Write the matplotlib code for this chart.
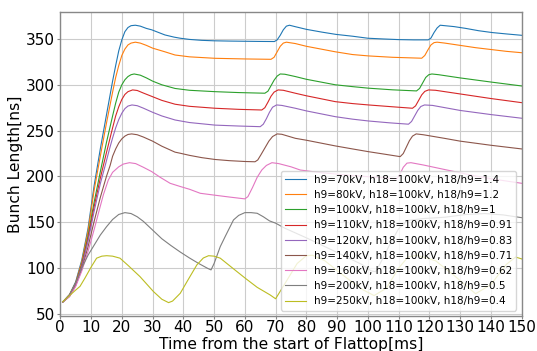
import matplotlib
matplotlib.use("Agg")
import matplotlib.pyplot as plt

labels = [
    "h9=70kV, h18=100kV, h18/h9=1.4",
    "h9=80kV, h18=100kV, h18/h9=1.2",
    "h9=100kV, h18=100kV, h18/h9=1",
    "h9=110kV, h18=100kV, h18/h9=0.91",
    "h9=120kV, h18=100kV, h18/h9=0.83",
    "h9=140kV, h18=100kV, h18/h9=0.71",
    "h9=160kV, h18=100kV, h18/h9=0.62",
    "h9=200kV, h18=100kV, h18/h9=0.5",
    "h9=250kV, h18=100kV, h18/h9=0.4",
]

t_70 = [0.8, 3, 5, 7, 9, 11, 13, 15, 17, 18, 19, 20, 21, 22, 23, 24.4, 26, 28, 29.7, 32, 34, 37, 39, 42, 46, 50, 55, 60, 65, 69.6,
        70.5, 71.5, 72.5, 73.5, 74.5, 76.4, 80, 85, 89.6, 95, 100, 105, 110, 115, 119.6, 120.5, 121.5, 122.5, 123.5, 125, 128,
        131.7, 136, 140.4, 145, 150]
v_70 = [63, 71, 85, 109, 143, 190, 230, 267, 304, 321, 337, 349, 358, 362.5, 364.5, 365, 364, 361.5, 360, 357, 354.4, 352, 350.8,
        349.5, 348.5, 348, 347.7, 347.5, 347.3, 347.2, 349, 354, 360, 364, 365, 363.4, 360.5, 357.5, 355, 353, 350.8, 350, 349.3,
        349, 349, 351, 357, 362, 365, 364.5, 363.5, 361.6, 359, 357, 355.5, 354]

t_80 = [0.8, 3, 5, 7, 9, 11, 13, 15, 17, 18, 19, 20, 21, 22, 23, 24.4, 26, 28, 30, 34, 37.3, 42, 50.3, 60, 68.5,
        69.5, 70.5, 71.5, 72.5, 73.5, 76.4, 80, 89.4, 95, 100.2, 108, 117.5, 118.5, 119.5, 120.5, 121.5, 122.5, 125, 130,
        135, 140, 145, 150]
v_80 = [63, 71, 84, 107, 140, 185, 222, 258, 292, 308, 321, 332, 339, 343.5, 345.5, 346.5, 345.5, 343, 340, 336, 332.5, 330.5,
        328.9, 328.2, 327.8, 330, 336, 342, 345.5, 346.5, 345, 342, 336, 333, 331.5, 330, 329, 332, 338, 343.5, 346, 346.5,
        345.5, 343, 340.5, 338.5, 336.5, 335]

t_100 = [0.8, 3, 5, 7, 9, 11, 13, 15, 17, 18, 19, 20, 21, 22, 23, 24, 26, 28, 30, 33, 37.3, 42, 50.3, 58, 66.5,
         67.5, 68.5, 69.5, 70.5, 71.5, 73, 76.4, 80, 89.4, 95, 100.2, 108, 115.8, 116.8, 117.8, 118.8, 119.8, 120.8, 123,
         130, 140, 150]
v_100 = [63, 70, 83, 104, 135, 172, 205, 237, 266, 280, 292, 300, 305.5, 309, 311, 311.8, 310.5, 307.5, 304, 300, 296, 294,
         292.5, 291.5, 290.8, 293, 299, 305, 309.5, 311.8, 311.5, 309, 306, 300, 298, 296.3, 294.5, 293.3, 296, 302, 308, 311,
         311.8, 311, 307.5, 303, 298.7]

t_110 = [0.8, 3, 5, 7, 9, 11, 13, 14, 15, 17, 18, 19, 20, 21, 22, 23.5, 25, 27, 30, 33, 37.3, 42, 50.3, 58, 65.5,
         66.5, 67.5, 68.5, 69.5, 70.8, 72.5, 76.4, 80, 89.4, 95, 100.2, 108, 114.5, 115.5, 116.5, 117.5, 118.5, 119.7, 122,
         130, 140, 150]
v_110 = [63, 70, 83, 103, 132, 167, 198, 212, 226, 253, 266, 276, 284, 289.5, 292.5, 294.4, 293.8, 291, 287, 283, 278.8,
         276.5, 274.4, 273.2, 272.5, 275, 281, 287.5, 292, 294.4, 294, 290.8, 288, 281.6, 279.5, 278, 276, 274.4, 277, 283,
         289, 292.8, 294.4, 294, 290, 285, 280.5]

t_120 = [0.8, 3, 5, 7, 9, 11, 13, 14.6, 16, 17, 18, 19, 20, 21, 22, 23.3, 25, 27, 30, 33, 37.3, 42, 50.3, 58, 65,
         66, 67, 68, 69, 70.3, 72, 76.4, 80, 89.4, 95, 100.2, 107, 113.2, 114.2, 115.2, 116.2, 117.2, 118.4, 121,
         130, 140, 150]
v_120 = [63, 70, 82, 102, 129, 162, 192, 212, 230, 242, 253, 262, 269, 274, 276.8, 278, 277.2, 274.5, 270, 266, 261.6,
         258.8, 256, 255, 254.3, 257, 263, 270, 275.5, 278, 277.5, 274.4, 271.5, 265.2, 262.5, 260.5, 258.5, 257, 260, 266,
         272, 276.3, 278, 277.5, 272, 267.5, 263.5]

t_140 = [0.8, 3, 5, 7, 9, 11, 13, 15, 16.2, 17, 18, 19, 20, 21, 22, 23.2, 25, 27, 30, 33, 37.3, 39, 42, 46, 50.3, 55,
         60, 63.3, 64.2, 65.2, 66.5, 67.8, 69, 70.5, 72, 76.4, 80, 89.4, 95, 100.2, 105, 110.5, 111.5, 112.5, 113.5, 114.5,
         115.7, 118, 125, 130, 140, 150]
v_140 = [63, 69, 81, 99, 123, 151, 177, 200, 212, 222, 230, 236.5, 241, 244, 245.8, 246.4, 245.5, 243, 238.5, 233, 226.5,
         225.3, 223, 220.5, 218.5, 217.2, 216.3, 216, 218, 223.5, 231, 238.5, 243.5, 246.4, 246, 241.6, 239.5, 233.3, 230,
         227, 224.5, 221.6, 225, 232, 239, 244, 246.4, 245.5, 241.5, 238.5, 234, 230]

t_160 = [0.8, 3, 5, 7, 9, 11, 12.4, 14, 15.6, 17, 19, 20.5, 22.5, 24.5, 27, 29.7, 32.5, 35.7, 39, 42, 45.5, 50.3, 55, 60,
         61, 62.5, 64, 65.5, 67, 68.8, 71, 75, 78, 85, 95, 105, 109.5, 110.5, 111.5, 112.7, 114, 118, 125, 130, 135, 140,
         145, 150]
v_160 = [63, 69, 80, 97, 118, 142, 160, 180, 196, 204.5, 210.5, 213.5, 215, 214, 210, 205.3, 199, 192.5, 189, 186, 181.6,
         179.5, 177.5, 175.5, 178, 188, 199, 207, 212, 215, 214, 210.5, 207, 204, 201, 198.5, 197.5, 203, 210, 214.5, 215,
         212.5, 207.5, 204, 200.5, 197.5, 195, 192.5]

t_200 = [0.8, 3, 5, 7, 9, 11, 13, 15, 17, 19, 21, 23, 25, 27, 30, 33, 36, 39, 42, 45, 48, 49, 50, 52, 53.6, 56.3, 58,
         60, 62, 64, 66, 68, 70, 73, 80, 90, 98, 101, 102.5, 104, 107, 110, 113, 118, 125, 132, 138, 144, 150]
v_200 = [63, 71, 84, 100, 114, 125, 136, 145, 153, 158.5, 160.5, 159.5, 156, 151, 141.5, 132, 124.5, 117.5, 111, 105,
         99.5, 98, 105, 123.4, 134.4, 152.5, 157.5, 160.5, 160.5, 159.8, 156, 151.5, 149, 143.5, 133, 117, 104, 97, 96, 105,
         125, 143, 152, 154, 155.5, 158.5, 159.5, 158, 155]

t_250 = [0.8, 3, 5, 6.4, 8, 10, 11.8, 13.5, 15.1, 17, 19.4, 22, 25.9, 30.3, 33, 35.2, 36.5, 39, 41.5, 44.4, 46.5, 48.2,
         50, 52, 56, 60.1, 64, 68.2, 70, 73.1, 77, 80, 82, 86, 92, 98, 102, 106, 110, 113, 116, 122, 128, 135, 140, 145,
         148, 150]
v_250 = [63.3, 70, 76, 80, 89, 101, 110.8, 113, 113.5, 113, 110.8, 103, 90.7, 74.3, 66, 62.3, 64, 72.5, 87, 103.5, 111,
         113.5, 113, 110.8, 100, 89, 79, 70.7, 66.5, 83.5, 105, 113.5, 114, 108, 92, 77, 70, 78, 100, 112, 114, 108, 92, 72,
         82, 104, 112, 110]

series = [(t_70, v_70), (t_80, v_80), (t_100, v_100), (t_110, v_110), (t_120, v_120),
          (t_140, v_140), (t_160, v_160), (t_200, v_200), (t_250, v_250)]
colors = ["#1f77b4", "#ff7f0e", "#2ca02c", "#d62728", "#9467bd", "#8c564b", "#e377c2", "#7f7f7f", "#bcbd22"]

fig = plt.figure(figsize=(5.37, 3.51), dpi=100)
ax = fig.add_axes([0.1123, 0.1005, 0.8592, 0.8655])
for (t, v), c, lab in zip(series, colors, labels):
    ax.plot(t, v, color=c, lw=0.8, label=lab)

ax.set_xlim(0, 150)
ax.set_ylim(48, 379.5)
ax.set_xticks(range(0, 151, 10))
ax.set_yticks(range(50, 351, 50))
ax.grid(True, color="#cccccc", lw=0.8)
ax.set_axisbelow(True)
for s in ax.spines.values():
    s.set_color("#888888")
    s.set_linewidth(1.0)
ax.tick_params(labelsize=11, color="#888888", length=2.2)
ax.tick_params(axis="x", pad=1.0)
ax.tick_params(axis="y", pad=1.5)
ax.set_xlabel("Time from the start of Flattop[ms]", fontsize=11.2, labelpad=1.5)
ax.set_ylabel("Bunch Length[ns]", fontsize=11.2, labelpad=2.5)
ax.legend(loc="lower right", fontsize=7.5, handlelength=2.0)
fig.savefig("out.png", dpi=100)
